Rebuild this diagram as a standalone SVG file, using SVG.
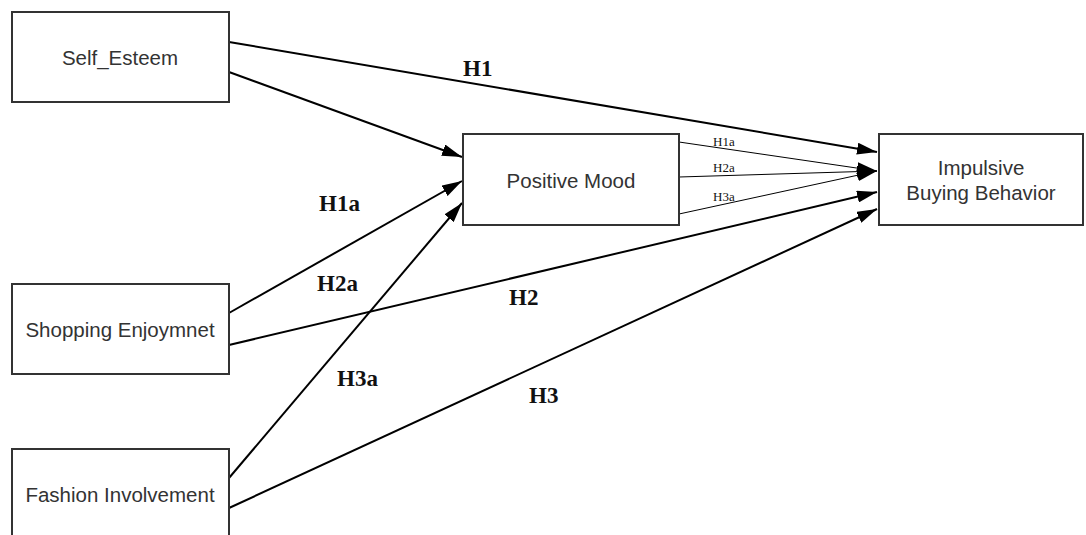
<svg xmlns="http://www.w3.org/2000/svg" width="1086" height="535" viewBox="0 0 1086 535">
<defs>
<marker id="ah" viewBox="0 0 20 12" refX="20" refY="6" markerWidth="20" markerHeight="12" markerUnits="userSpaceOnUse" orient="auto">
<path d="M0,0 L20,6 L0,12 Z" fill="#000"/>
</marker>
<style>
.box{fill:#fff;stroke:#333;stroke-width:2}
.nt{font-family:"Liberation Sans",Arial,sans-serif;font-size:20.5px;fill:#333;text-anchor:middle}
.lab{font-family:"Liberation Serif","Times New Roman",serif;font-size:23px;font-weight:bold;fill:#111}
.sl{font-family:"Liberation Serif","Times New Roman",serif;font-size:13px;fill:#111}
.c{stroke:#000;stroke-width:2;fill:none}
.t{stroke:#000;stroke-width:1;fill:none}
</style>
</defs>
<rect width="1086" height="535" fill="#fff"/>
<g id="connectors">
<line class="c" x1="229" y1="42" x2="877" y2="152" marker-end="url(#ah)"/>
<line class="c" x1="229" y1="72" x2="462" y2="157" marker-end="url(#ah)"/>
<line class="c" x1="229" y1="313" x2="462" y2="181" marker-end="url(#ah)"/>
<line class="c" x1="229" y1="345" x2="877" y2="192" marker-end="url(#ah)"/>
<line class="c" x1="229" y1="478" x2="462" y2="203" marker-end="url(#ah)"/>
<line class="c" x1="229" y1="508" x2="877" y2="209" marker-end="url(#ah)"/>
<line class="t" x1="679" y1="142" x2="877" y2="171" marker-end="url(#ah)"/>
<line class="t" x1="679" y1="177" x2="877" y2="171" marker-end="url(#ah)"/>
<line class="t" x1="679" y1="214" x2="877" y2="171" marker-end="url(#ah)"/>
<text class="lab" x="463" y="76">H1</text>
<text class="lab" x="319" y="211">H1a</text>
<text class="lab" x="317" y="291">H2a</text>
<text class="lab" x="509" y="305">H2</text>
<text class="lab" x="337" y="386">H3a</text>
<text class="lab" x="529" y="403">H3</text>
<text class="sl" x="713" y="146">H1a</text>
<text class="sl" x="713" y="172">H2a</text>
<text class="sl" x="713" y="201">H3a</text>
</g>
<g id="self_esteem">
<rect class="box" x="12" y="12" width="217" height="90"/>
<text class="nt" x="120" y="65">Self_Esteem</text>
</g>
<g id="positive_mood">
<rect class="box" x="463" y="134" width="216" height="91"/>
<text class="nt" x="571" y="188">Positive Mood</text>
</g>
<g id="impulsive">
<rect class="box" x="879" y="134" width="204" height="91"/>
<text class="nt" x="981" y="175">Impulsive</text>
<text class="nt" x="981" y="200">Buying Behavior</text>
</g>
<g id="shopping">
<rect class="box" x="12" y="284" width="217" height="90"/>
<text class="nt" x="120" y="337">Shopping Enjoymnet</text>
</g>
<g id="fashion">
<rect class="box" x="12" y="449" width="217" height="90"/>
<text class="nt" x="120" y="502">Fashion Involvement</text>
</g>
</svg>
